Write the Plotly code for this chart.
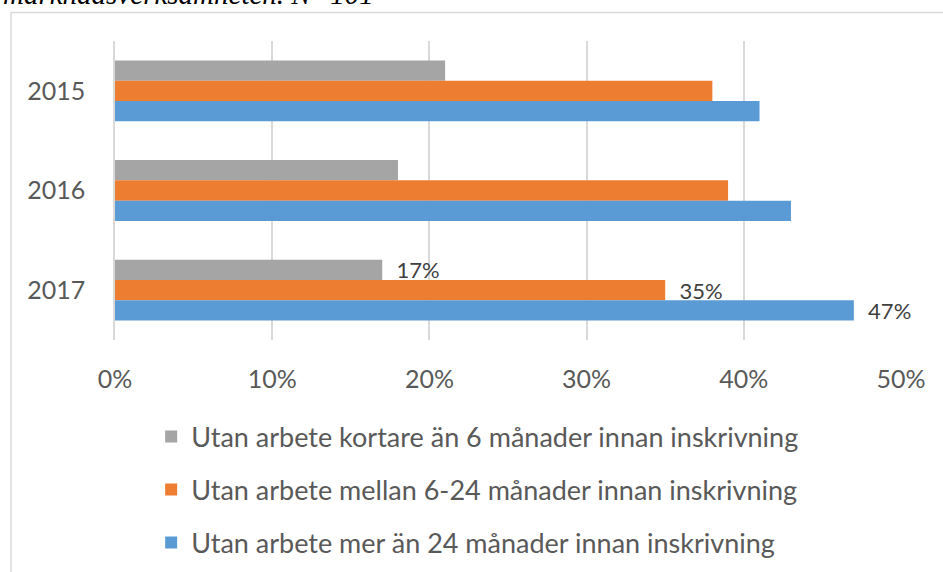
import plotly.graph_objects as go

years = ["2015", "2016", "2017"]
kortare_6 = [21, 18, 17]
mellan_6_24 = [38, 39, 35]
mer_24 = [41, 43, 47]
x_ticks = [0, 10, 20, 30, 40, 50]

series = [
    ("Utan arbete kortare än 6 månader innan inskrivning", kortare_6, "#A5A5A5"),
    ("Utan arbete mellan 6-24 månader innan inskrivning", mellan_6_24, "#ED7D31"),
    ("Utan arbete mer än 24 månader innan inskrivning", mer_24, "#5B9BD5"),
]

FONT = "Lato, 'Open Sans', sans-serif"

fig = go.Figure()

for i, (name, vals, color) in enumerate(series):
    # only the 2017 bars carry a data label
    labels = ["" if y != "2017" else "\u00a0\u00a0%d%%" % v for y, v in zip(years, vals)]
    fig.add_trace(go.Bar(
        y=years,
        x=vals,
        name=name,
        orientation="h",
        marker=dict(color=color, line=dict(width=0)),
        text=labels,
        textposition="outside",
        constraintext="none",
        textfont=dict(size=22, color="#404040", family=FONT),
        cliponaxis=False,
        legendgroup="g%d" % i,
    ))

# light frame of the chart box (extends past the right/bottom edge)
fig.add_shape(
    type="rect", xref="paper", yref="paper",
    x0=-0.1323, x1=1.1, y0=-0.95, y1=1.0953,
    line=dict(color="#D9D9D9", width=1.5), layer="below",
)

# caption of the page above the chart, cut off by the top edge
fig.add_annotation(
    text="<i>marknadsverksamheten. N=101</i>",
    xref="paper", yref="paper", x=-0.145, y=1.157,
    xanchor="left", yanchor="middle", showarrow=False,
    font=dict(family="'Liberation Serif', serif", size=29, color="#000000"),
)

fig.update_layout(
    width=943, height=572,
    margin=dict(l=115, r=42, t=41, b=232, autoexpand=False),
    paper_bgcolor="white", plot_bgcolor="white",
    barmode="group", bargap=0.39, bargroupgap=0,
    font=dict(family=FONT, color="#595959", size=25),
    showlegend=True,
    legend=dict(
        x=0.046, y=-0.242, xanchor="left", yanchor="top",
        font=dict(size=27, color="#595959"),
        traceorder="grouped", tracegroupgap=15,
    ),
    xaxis=dict(
        range=[0, 50], tickvals=x_ticks, ticktext=["%d%%" % t for t in x_ticks],
        showgrid=True, gridcolor="#D9D9D9", gridwidth=1.5,
        zeroline=False, showline=False, ticks="", ticklabelstandoff=22,
        tickfont=dict(size=25, color="#595959"),
    ),
    yaxis=dict(
        autorange="reversed", showgrid=False, zeroline=False,
        showline=True, linecolor="#D9D9D9", linewidth=1.5,
        ticks="", ticklabelstandoff=23,
        tickfont=dict(size=25, color="#595959"),
    ),
)

fig.write_html(
    "out.html",
    config={"displayModeBar": False},
    post_script="document.body.style.margin='0';",
)
